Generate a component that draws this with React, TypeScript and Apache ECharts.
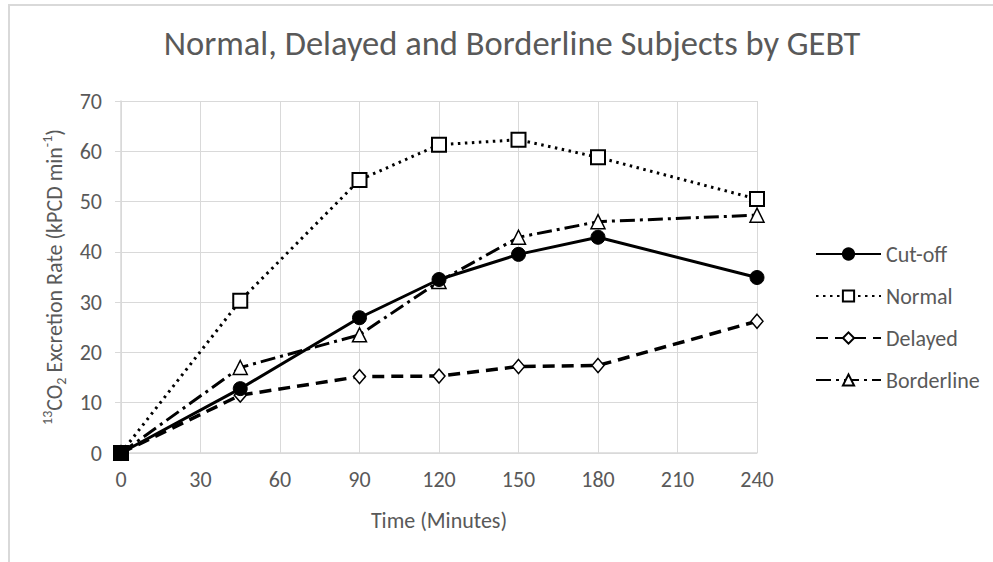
import React, { useEffect, useRef } from "react";
import * as echarts from "echarts";

const timePoints = [0, 45, 90, 120, 150, 180, 240];
const cutoff = [0, 12.8, 26.9, 34.5, 39.5, 42.9, 34.9];
const normal = [0, 30.3, 54.3, 61.3, 62.3, 58.8, 50.5];
const delayed = [0, 11.5, 15.2, 15.3, 17.2, 17.4, 26.2];
const borderline = [0, 17.0, 23.5, 34.1, 42.9, 46.0, 47.3];
const seriesNames = ["Cut-off", "Normal", "Delayed", "Borderline"];

const FONT = "Carlito, Calibri, Lato, sans-serif";
const TXT = "#595959";
const FS = 22;

export default function App() {
  const ref = useRef<HTMLDivElement>(null);
  useEffect(() => {
    if (!ref.current) return;
    const chart = echarts.init(ref.current, undefined, { renderer: "svg" });
    const pts = (vals: number[]) => timePoints.map((t, i) => [t, vals[i]]);
    const option = {
      animation: false,
      backgroundColor: "#fff",
      textStyle: { fontFamily: FONT },
      title: {
        text: "Normal, Delayed and Borderline Subjects by GEBT",
        left: 507,
        top: 20,
        textAlign: "center",
        textStyle: { fontFamily: FONT, fontSize: 34.5, fontWeight: "normal", color: TXT },
      },
      graphic: [
        {
          type: "rect",
          shape: { x: 9, y: 5, width: 1100, height: 700 },
          style: { fill: "none", stroke: "#d9d9d9", lineWidth: 2 },
          silent: true,
        },
      ],
      legend: {
        orient: "vertical",
        left: 815,
        top: 243,
        padding: 0,
        itemWidth: 65,
        itemHeight: 14,
        itemGap: 20,
        textStyle: { fontFamily: FONT, fontSize: FS, color: TXT },
        data: seriesNames,
      },
      grid: { left: 121, right: 236, top: 101, bottom: 109, containLabel: false },
      xAxis: {
        type: "value",
        min: 0,
        max: 240,
        interval: 30,
        name: "Time (Minutes)",
        nameLocation: "middle",
        nameGap: 56,
        nameTextStyle: { fontFamily: FONT, fontSize: FS, color: TXT },
        axisLine: { show: true, lineStyle: { color: "#d9d9d9", width: 1.5 } },
        axisTick: { show: false },
        axisLabel: { fontFamily: FONT, fontSize: FS, color: TXT, margin: 15 },
        splitLine: { show: true, lineStyle: { color: "#d9d9d9", width: 1 } },
      },
      yAxis: {
        type: "value",
        min: 0,
        max: 70,
        interval: 10,
        name: "{sup|13}{n|CO}{sub|2}{n| Excretion Rate (kPCD min}{sup|-1}{n|)}",
        nameLocation: "middle",
        nameGap: 48,
        nameTextStyle: {
          fontFamily: FONT,
          color: TXT,
          rich: {
            n: { fontFamily: FONT, fontSize: FS, color: TXT, lineHeight: 28, verticalAlign: "middle" },
            sup: { fontFamily: FONT, fontSize: 14, color: TXT, lineHeight: 28, verticalAlign: "top" },
            sub: { fontFamily: FONT, fontSize: 14, color: TXT, lineHeight: 28, verticalAlign: "bottom" },
          },
        },
        axisLine: { show: true, lineStyle: { color: "#d9d9d9", width: 1.5 } },
        axisTick: { show: true, length: 6, lineStyle: { color: "#d9d9d9" } },
        axisLabel: { fontFamily: FONT, fontSize: FS, color: TXT, margin: 19 },
        splitLine: { show: true, lineStyle: { color: "#d9d9d9", width: 1 } },
      },
      series: [
        {
          name: "Cut-off",
          type: "line",
          data: pts(cutoff),
          symbol: "circle",
          symbolSize: 14,
          z: 5,
          itemStyle: { color: "#000", borderColor: "#000", borderWidth: 1 },
          lineStyle: { color: "#000", width: 3, type: "solid" },
        },
        {
          name: "Normal",
          type: "line",
          data: pts(normal).map((p, i) =>
            i === 0 ? { value: p, itemStyle: { color: "#000" } } : p
          ),
          symbol: "rect",
          symbolSize: 14,
          z: 4,
          itemStyle: { color: "#fff", borderColor: "#000", borderWidth: 2 },
          lineStyle: { color: "#000", width: 3, type: [2.5, 4.5] },
        },
        {
          name: "Delayed",
          type: "line",
          data: pts(delayed),
          symbol: "diamond",
          symbolSize: [12, 14],
          z: 3,
          itemStyle: { color: "#fff", borderColor: "#000", borderWidth: 1.5 },
          lineStyle: { color: "#000", width: 3.5, type: [12, 7] },
        },
        {
          name: "Borderline",
          type: "line",
          data: pts(borderline),
          symbol: "triangle",
          symbolSize: 14,
          z: 3,
          itemStyle: { color: "#fff", borderColor: "#000", borderWidth: 1.5 },
          lineStyle: { color: "#000", width: 3, type: [15, 5, 3, 5] },
        },
      ],
    };
    chart.setOption(option as any);
    return () => chart.dispose();
  }, []);
  return (
    <div
      ref={ref}
      style={{ position: "fixed", left: 0, top: 0, width: 993, height: 562, background: "#fff" }}
    />
  );
}
